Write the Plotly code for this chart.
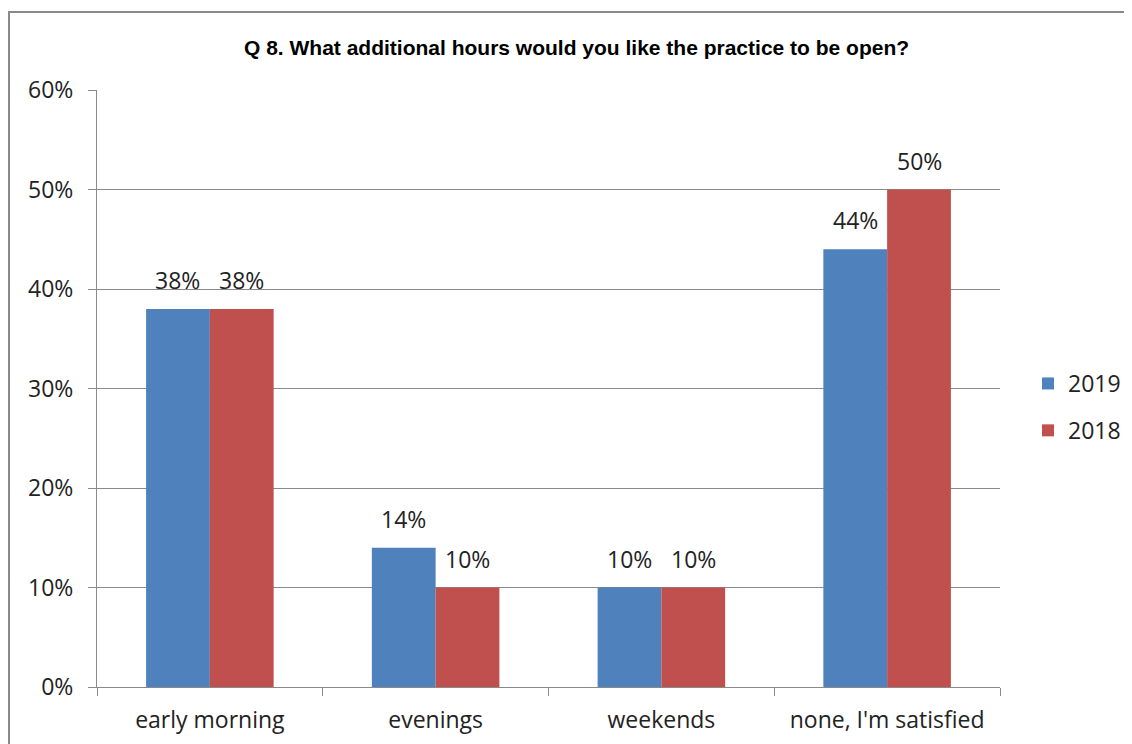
import plotly.graph_objects as go

categories = ["early morning", "evenings", "weekends", "none, I'm satisfied"]
series_names = ["2019", "2018"]
values_2019 = [38, 14, 10, 44]
values_2018 = [38, 10, 10, 50]
y_ticks = [0, 10, 20, 30, 40, 50, 60]
y_tick_labels = ["0%", "10%", "20%", "30%", "40%", "50%", "60%"]
title_text = "Q 8. What additional hours would you like the practice to be open?"

colors = ["#4F81BD", "#C0504D"]
all_values = [values_2019, values_2018]

# page body has an 8px margin, so figure coords = screen coords - 8
OFF = 8
W, H = 1132 - OFF, 744 - OFF
L, T = 97 - OFF, 90 - OFF
R = W - (1000 - OFF)
B = H - (687 - OFF)
plot_w = W - L - R
plot_h = H - T - B

FONT = "Open Sans"
FS = 23
TXT = "#222222"
GRAY = "#8a8a8a"

fig = go.Figure()
for name, vals, col in zip(series_names, all_values, colors):
    fig.add_trace(go.Bar(
        x=categories, y=vals, name=name, marker=dict(color=col, line=dict(width=0)),
        legendgroup=name,
    ))

cat_w = plot_w / len(categories)
bargap = 0.435
bar_w = cat_w * (1 - bargap) / 2
annotations = []
for i, vals in enumerate(all_values):
    offset = (-0.5 + i) * bar_w
    for c, v in zip(categories, vals):
        annotations.append(dict(
            x=c, y=v, xref="x", yref="y", text=f"{v}%", showarrow=False,
            xshift=offset, yshift=11, yanchor="bottom",
            font=dict(family=FONT, size=FS, color=TXT),
        ))

annotations.append(dict(
    x=(576 - OFF - L) / plot_w, y=(H - B - (47 - OFF)) / plot_h, xref="paper", yref="paper",
    text=f"<b>{title_text}</b>", showarrow=False, xanchor="center", yanchor="middle",
    font=dict(family="Liberation Sans", size=21, color="#000000"),
))

fig.update_layout(
    width=W, height=H,
    margin=dict(l=L, r=R, t=T, b=B, pad=0, autoexpand=False),
    paper_bgcolor="white", plot_bgcolor="white",
    barmode="group", bargap=bargap, bargroupgap=0,
    annotations=annotations,
    showlegend=True,
    legend=dict(
        xref="container", yref="container",
        x=(1028 - OFF) / W, y=1 - (407 - OFF) / H, xanchor="left", yanchor="middle",
        font=dict(family=FONT, size=FS, color=TXT),
        traceorder="grouped", tracegroupgap=14,
        itemwidth=30, bgcolor="rgba(0,0,0,0)",
    ),
    shapes=[dict(
        type="rect", xref="paper", yref="paper",
        x0=(9 - OFF - L) / plot_w, x1=(W + 20 - L) / plot_w,
        y0=(H - B - (H + 20)) / plot_h, y1=(H - B - (12 - OFF)) / plot_h,
        line=dict(color=GRAY, width=2), fillcolor="rgba(0,0,0,0)", layer="below",
    )],
)

fig.update_xaxes(
    showline=True, linecolor=GRAY, linewidth=1,
    ticks="outside", tickson="boundaries", ticklen=8, tickcolor=GRAY,
    tickfont=dict(family=FONT, size=FS, color=TXT),
    showgrid=False, ticklabelstandoff=12, automargin=False,
)
fig.update_yaxes(
    range=[0, 60], tickvals=y_ticks, ticktext=y_tick_labels,
    showline=True, linecolor=GRAY, linewidth=1,
    ticks="outside", ticklen=8, tickcolor=GRAY,
    showgrid=True, gridcolor=GRAY, gridwidth=1,
    tickfont=dict(family=FONT, size=FS, color=TXT),
    ticklabelstandoff=10, zeroline=False, automargin=False,
)

fig.write_html("out.html")
